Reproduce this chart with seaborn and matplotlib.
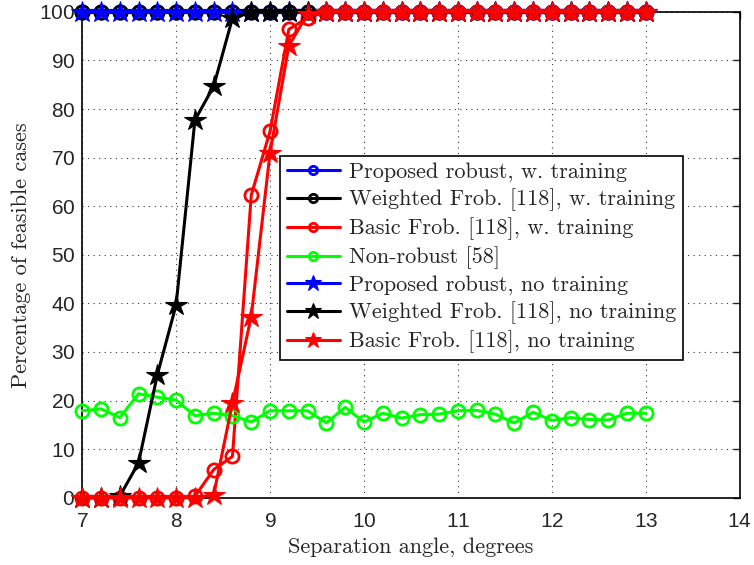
import numpy as np
import pandas as pd
import matplotlib
matplotlib.use("Agg")
import matplotlib.pyplot as plt
import seaborn as sns

# Separation angles (degrees)
angles = [7.0, 7.2, 7.4, 7.6, 7.8, 8.0, 8.2, 8.4, 8.6, 8.8, 9.0, 9.2, 9.4, 9.6, 9.8,
          10.0, 10.2, 10.4, 10.6, 10.8, 11.0, 11.2, 11.4, 11.6, 11.8, 12.0, 12.2,
          12.4, 12.6, 12.8, 13.0]

# Percentage of feasible cases for each method
proposed_train = [100] * 31
weighted_train = [100] * 31
basic_train = [0, 0, 0, 0, 0, 0, 0.3, 5.8, 8.5, 62.3, 75.4, 96.4, 98.8] + [100] * 18
nonrobust = [17.9, 18.3, 16.5, 21.4, 20.7, 20.1, 16.9, 17.4, 16.9, 15.6, 17.9, 17.9,
             17.9, 15.4, 18.6, 15.6, 17.4, 16.4, 17.1, 17.2, 17.9, 18.0, 17.2, 15.4,
             17.6, 15.9, 16.5, 16.1, 16.0, 17.4, 17.4]
proposed_notrain = [100] * 31
weighted_notrain = [0, 0, 0.3, 7.2, 25.3, 39.7, 77.7, 84.7, 98.7] + [100] * 22
basic_notrain = [0, 0, 0, 0, 0, 0, 0, 0.6, 19.5, 37.3, 71.0, 93.0, 99.6] + [100] * 18

series = [
    ("Proposed robust, w. training", proposed_train, "#0000ff", "o"),
    ("Weighted Frob. [118], w. training", weighted_train, "#000000", "o"),
    ("Basic Frob. [118], w. training", basic_train, "#ff0000", "o"),
    ("Non-robust [58]", nonrobust, "#00ff00", "o"),
    ("Proposed robust, no training", proposed_notrain, "#0000ff", "*"),
    ("Weighted Frob. [118], no training", weighted_notrain, "#000000", "*"),
    ("Basic Frob. [118], no training", basic_notrain, "#ff0000", "*"),
]

sns.set_style("white")
plt.rcParams["font.family"] = ["Liberation Sans", "DejaVu Sans"]
serif = ["cmr10", "DejaVu Serif"]
plt.rcParams["axes.formatter.use_mathtext"] = True

fig = plt.figure(figsize=(7.54, 5.65), dpi=100)
ax = fig.add_axes([0.109, 0.119, 0.872, 0.860])

for label, vals, color, mk in series:
    df = pd.DataFrame({"angle": angles, "value": vals})
    if mk == "o":
        kw = dict(marker="o", markersize=9.5, markerfacecolor="none",
                  markeredgecolor=color, markeredgewidth=2.0)
    else:
        kw = dict(marker="*", markersize=16, markerfacecolor=color,
                  markeredgecolor=color, markeredgewidth=0.8)
    sns.lineplot(data=df, x="angle", y="value", ax=ax, color=color,
                 linewidth=2.2, label=label, clip_on=False, zorder=3, **kw)

ax.set_xlim(7, 14)
ax.set_ylim(0, 100)
ax.set_xticks(range(7, 15))
ax.set_yticks(range(0, 101, 10))
ax.tick_params(axis="both", direction="in", length=5, width=1, labelsize=15,
               top=True, right=True)
ax.tick_params(axis="x", pad=10)
ax.tick_params(axis="y", pad=5)
ax.grid(True, linestyle=(0, (1, 4)), color="black", linewidth=0.8, alpha=0.8)
for s in ax.spines.values():
    s.set_color("black")
    s.set_linewidth(1.2)

ax.set_xlabel("Separation angle, degrees", fontsize=16, family=serif, labelpad=5)
ax.set_ylabel("Percentage of feasible cases", fontsize=16, family=serif, labelpad=6)

leg = ax.legend(loc="upper left", bbox_to_anchor=(0.301, 0.704), borderaxespad=0,
                frameon=True, fancybox=False, edgecolor="black", framealpha=1,
                prop={"family": serif, "size": 16}, handlelength=2.4,
                labelspacing=0.28, borderpad=0.3, handletextpad=0.4)
leg.get_frame().set_linewidth(1.2)
for h in leg.legend_handles:
    if h.get_marker() == "o":
        h.set_markersize(6)
    else:
        h.set_markersize(12)
leg.set_zorder(5)

fig.savefig("out.png", dpi=100)
